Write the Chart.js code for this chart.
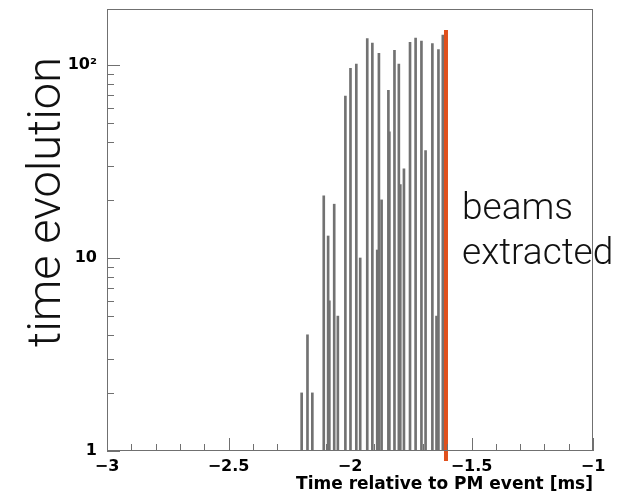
<!DOCTYPE html>
<html>
<head>
<meta charset="utf-8">
<script src="https://cdn.jsdelivr.net/npm/chart.js@4/dist/chart.umd.min.js"></script>
<style>
  html, body { margin: 0; padding: 0; background: #ffffff; }
  canvas { display: block; }
</style>
</head>
<body>
<canvas id="chart" width="617" height="495"></canvas>
<script>
// ---- data ----
const binCenters = [-2.199, -2.175, -2.155, -2.108, -2.090, -2.085, -2.065, -2.050,
                    -2.019, -1.998, -1.974, -1.958, -1.929, -1.908, -1.888, -1.881,
                    -1.870, -1.842, -1.838, -1.817, -1.799, -1.793, -1.778, -1.753,
                    -1.730, -1.706, -1.689, -1.661, -1.644, -1.636, -1.618];
const binCounts  = [2, 4, 2, 21, 13, 6, 19, 5,
                    69, 96, 101, 10, 137, 130, 11, 115,
                    20, 74, 45, 119, 101, 24, 29, 131,
                    138, 133, 36, 129, 5, 120, 143];
const extractionTime = -1.605;
const extractionSpan = [0.887, 152];

const xTickValues = [-3, -2.5, -2, -1.5, -1];
const xTickLabels = ['\u22123', '\u22122.5', '\u22122', '\u22121.5', '\u22121'];
const yTickValues = [1, 10, 100];
const yTickLabels = ['1', '10', '10\u00B2'];

const xTitle = 'Time relative to PM event [ms]';
const sideTitle = 'time evolution';
const noteLines = ['beams', 'extracted'];

// ---- ROOT-style frame, inner tick marks and free text ----
const rootFrame = {
  id: 'rootFrame',
  afterDatasetsDraw(chart) {
    const { ctx, chartArea: a, scales: { x, y } } = chart;
    ctx.save();
    ctx.strokeStyle = '#707070';
    ctx.lineWidth = 1;
    ctx.strokeRect(a.left + 0.5, a.top + 0.5, a.right - a.left - 1, a.bottom - a.top - 1);
    ctx.beginPath();
    for (let i = 0; i <= 20; i++) {
      const v = x.min + i * 0.1;
      const px = Math.round(x.getPixelForValue(v)) + 0.5;
      const len = (i % 5 === 0) ? 13 : 7;
      ctx.moveTo(px, a.bottom);
      ctx.lineTo(px, a.bottom - len);
    }
    for (let d = 0; d <= 3; d++) {
      for (let k = 1; k <= 9; k++) {
        const v = k * Math.pow(10, d);
        if (v < y.min || v > y.max) continue;
        const py = Math.round(y.getPixelForValue(v)) + 0.5;
        const len = (k === 1) ? 13 : 7;
        ctx.moveTo(a.left, py);
        ctx.lineTo(a.left + len, py);
      }
    }
    ctx.stroke();
    ctx.restore();
  },
  afterDraw(chart) {
    const { ctx } = chart;
    ctx.save();
    ctx.fillStyle = '#111111';
    ctx.font = '300 47px Roboto, "Open Sans", Lato, sans-serif';
    ctx.textAlign = 'center';
    ctx.textBaseline = 'alphabetic';
    ctx.translate(60, 202);
    ctx.rotate(-Math.PI / 2);
    ctx.fillText(sideTitle, 0, 0);
    ctx.restore();

    ctx.save();
    ctx.fillStyle = '#111111';
    ctx.font = '300 37px Roboto, "Open Sans", Lato, sans-serif';
    ctx.textAlign = 'left';
    ctx.textBaseline = 'alphabetic';
    ctx.fillText(noteLines[0], 462, 219);
    ctx.fillText(noteLines[1], 462, 264);
    ctx.restore();
  }
};

const ctx = document.getElementById('chart').getContext('2d');
new Chart(ctx, {
  type: 'bar',
  data: {
    datasets: [
      {
        type: 'line',
        order: 0,
        data: extractionSpan.map(v => ({ x: extractionTime, y: v })),
        borderColor: '#e0501c',
        borderWidth: 4,
        pointRadius: 0,
        clip: false
      },
      {
        type: 'bar',
        order: 1,
        data: binCenters.map((c, i) => ({ x: c, y: binCounts[i] })),
        backgroundColor: '#727272',
        borderWidth: 0,
        barThickness: 2
      }
    ]
  },
  options: {
    responsive: false,
    animation: false,
    devicePixelRatio: 1,
    layout: { padding: { top: 9, right: 24, bottom: 0, left: 0 } },
    plugins: { legend: { display: false }, tooltip: { enabled: false } },
    scales: {
      x: {
        type: 'linear',
        min: -3,
        max: -1,
        offset: false,
        afterFit(s) { s.height = 44; s.paddingLeft = 0; s.paddingRight = 0; },
        afterBuildTicks(s) { s.ticks = xTickValues.map(v => ({ value: v })); },
        grid: { display: false, drawTicks: false },
        border: { display: false },
        ticks: {
          autoSkip: false,
          maxRotation: 0,
          padding: 6,
          color: '#000000',
          font: { family: '"DejaVu Sans"', size: 16, weight: 'bold' },
          callback: (v, i) => xTickLabels[i]
        },
        title: {
          display: true,
          text: xTitle,
          align: 'end',
          color: '#000000',
          font: { family: '"DejaVu Sans"', size: 17, weight: 'bold' },
          padding: { top: 0, bottom: 0 }
        }
      },
      y: {
        type: 'logarithmic',
        min: 1,
        max: 195,
        afterFit(s) { s.width = 107; s.paddingTop = 0; s.paddingBottom = 0; },
        afterBuildTicks(s) { s.ticks = yTickValues.map(v => ({ value: v })); },
        grid: { display: false, drawTicks: false },
        border: { display: false },
        ticks: {
          autoSkip: false,
          padding: 10,
          color: '#000000',
          font: { family: '"DejaVu Sans"', size: 16, weight: 'bold' },
          callback: (v, i) => yTickLabels[i]
        }
      }
    }
  },
  plugins: [rootFrame]
});
</script>
</body>
</html>
